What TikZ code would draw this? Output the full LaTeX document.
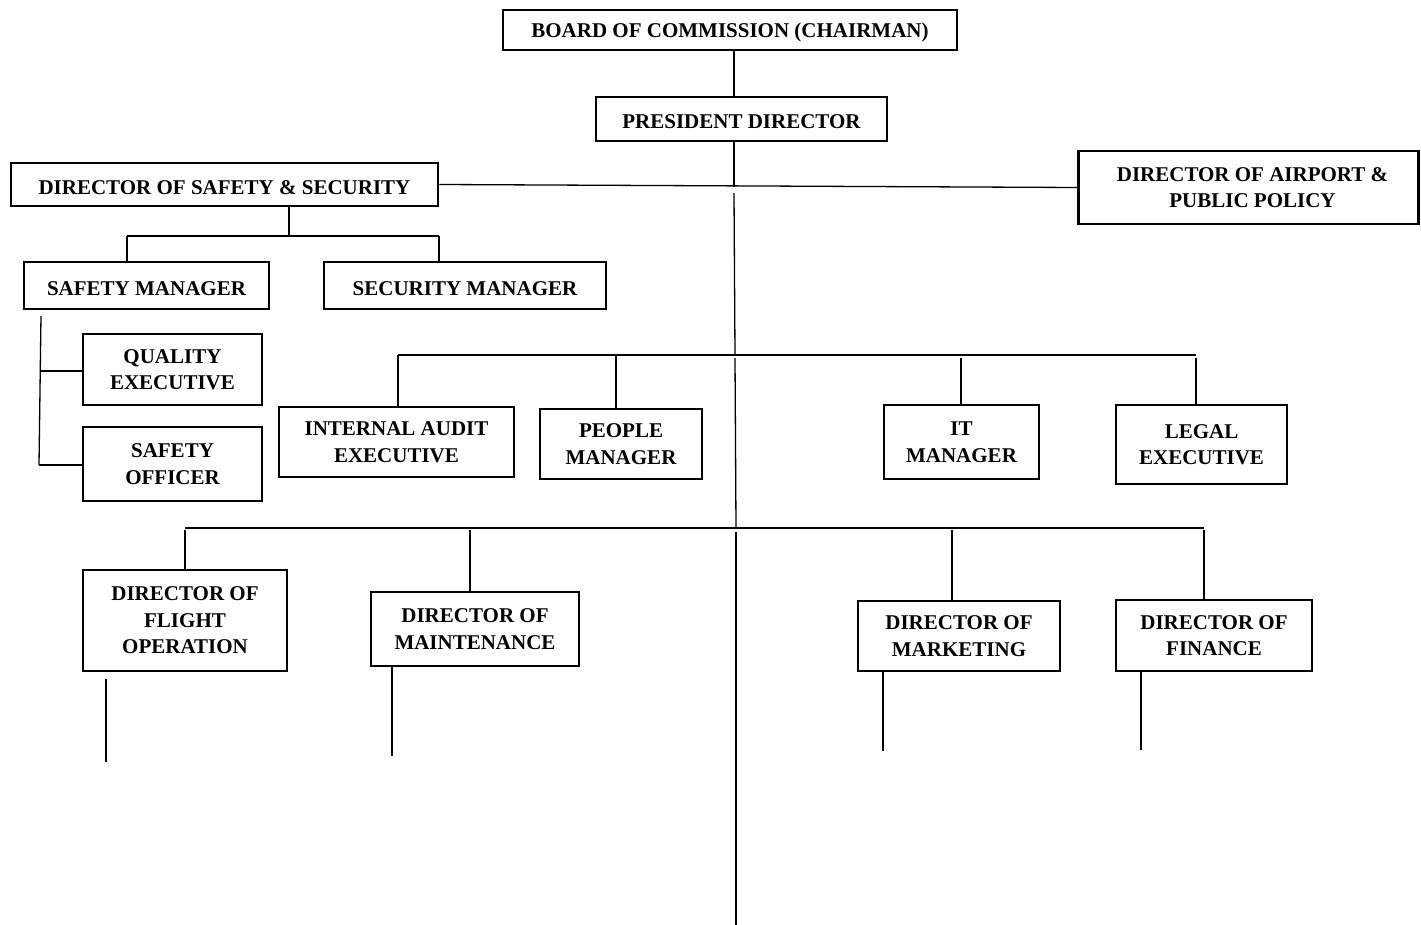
\documentclass[tikz,border=0pt]{standalone}
\usepackage{fontspec}
\setmainfont{Liberation Serif}
\usetikzlibrary{calc}
\begin{document}
\begin{tikzpicture}[x=1pt,y=-1pt,
  box/.style={draw, line width=2.6pt, align=center, inner sep=0pt,
    font=\fontsize{21}{26.5}\selectfont\bfseries,
    execute at begin node={\rule{0pt}{20pt}}},
  ln/.style={line width=1.3pt}]
\useasboundingbox (0,0) rectangle (1421,925);
% boxes
\node[box, minimum width=454pt, minimum height=40pt] (board) at (730,30) {BOARD OF COMMISSION (CHAIRMAN)};
\node[box, minimum width=291pt, minimum height=44pt] (pres) at (741.5,119) {PRESIDENT DIRECTOR};
\node[box, minimum width=427pt, minimum height=43pt] (dss) at (224.5,184.5) {DIRECTOR OF SAFETY \& SECURITY};
\node[box, minimum width=340pt, minimum height=73pt] (dap) at (1248.5,187.5) {\hspace*{8pt}DIRECTOR OF AIRPORT \&\\\hspace*{8pt}PUBLIC POLICY};
\node[box, minimum width=245pt, minimum height=47pt] (sm) at (146.5,285.5) {SAFETY MANAGER};
\node[box, minimum width=282pt, minimum height=47pt] (secm) at (465,285.5) {SECURITY MANAGER};
\node[box, minimum width=179pt, minimum height=71pt] (qe) at (172.5,369.5) {QUALITY\\EXECUTIVE};
\node[box, minimum width=179pt, minimum height=74pt] (so) at (172.5,464) {SAFETY\\OFFICER};
\node[box, minimum width=235pt, minimum height=70pt] (ia) at (396.5,442) {INTERNAL AUDIT\\EXECUTIVE};
\node[box, minimum width=162pt, minimum height=70pt] (pm) at (621,444) {PEOPLE\\MANAGER};
\node[box, minimum width=155pt, minimum height=74pt] (it) at (961.5,442) {IT\\MANAGER};
\node[box, minimum width=171pt, minimum height=79pt] (le) at (1201.5,444.5) {LEGAL\\EXECUTIVE};
\node[box, minimum width=204pt, minimum height=101pt] (dfo) at (185,620.5) {DIRECTOR OF\\FLIGHT\\OPERATION};
\node[box, minimum width=208pt, minimum height=74pt] (dm) at (475,629) {DIRECTOR OF\\MAINTENANCE};
\node[box, minimum width=202pt, minimum height=70pt] (dmk) at (959,636) {DIRECTOR OF\\MARKETING};
\node[box, minimum width=196pt, minimum height=71pt] (dfi) at (1214,635.5) {DIRECTOR OF\\FINANCE};
% coordinates
\coordinate (xT) at (734,0);
\coordinate (j0) at (734,187);
\coordinate (h1) at (735,355);
\coordinate (h2) at (736,528);
\coordinate (tend) at (736,925);
\coordinate (r1L) at (398,355);
\coordinate (r1a) at (616,355);
\coordinate (r1b) at (961,358);
\coordinate (r1R) at (1196,355);
\coordinate (r2L) at (185,528);
\coordinate (r2a) at (470,530);
\coordinate (r2b) at (952,530);
\coordinate (r2R) at (1204,528);
\coordinate (sA) at (289,236);
\coordinate (sL) at (127,236);
\coordinate (sR) at (439,236);
\coordinate (v0) at (41,316);
\coordinate (v1) at (41,371);
\coordinate (v2) at (39,465);
\coordinate (l1) at (106,762);
\coordinate (l2) at (392,756);
\coordinate (l3) at (883,751);
\coordinate (l4) at (1141,750);
% connectors
\draw[ln] (board.south -| xT) -- (pres.north -| xT);
\draw[ln] (pres.south -| xT) -- (j0);
\draw[ln] (dss.east) -- (dap.west);
\draw[ln] ($(j0)+(0,6)$) -- (h1);
\draw[ln] ($(h1)+(0,3)$) -- (h2);
\draw[ln] ($(h2)+(0,4)$) -- (tend);
% second row
\draw[ln] (r1L) -- (r1R);
\draw[ln] (r1L) -- (ia.north -| r1L);
\draw[ln] (r1a) -- (pm.north -| r1a);
\draw[ln] (r1b) -- (it.north -| r1b);
\draw[ln] ($(r1R)+(0,3)$) -- (le.north -| r1R);
% third row
\draw[ln] (r2L) -- (r2R);
\draw[ln] ($(r2L)+(0,2)$) -- (dfo.north -| r2L);
\draw[ln] (r2a) -- (dm.north -| r2a);
\draw[ln] (r2b) -- (dmk.north -| r2b);
\draw[ln] ($(r2R)+(0,2)$) -- (dfi.north -| r2R);
% legs
\draw[ln] ($(dfo.south -| l1)+(0,7)$) -- (l1);
\draw[ln] (dm.south -| l2) -- (l2);
\draw[ln] (dmk.south -| l3) -- (l3);
\draw[ln] (dfi.south -| l4) -- (l4);
% safety & security branch
\draw[ln] (dss.south -| sA) -- (sA);
\draw[ln] (sL) -- (sR);
\draw[ln] (sL) -- (sm.north -| sL);
\draw[ln] (sR) -- (secm.north -| sR);
\draw[ln] (v0) -- (v2);
\draw[ln] (v1) -- (qe.west |- v1);
\draw[ln] (v2) -- (so.west |- v2);
\end{tikzpicture}
\end{document}
